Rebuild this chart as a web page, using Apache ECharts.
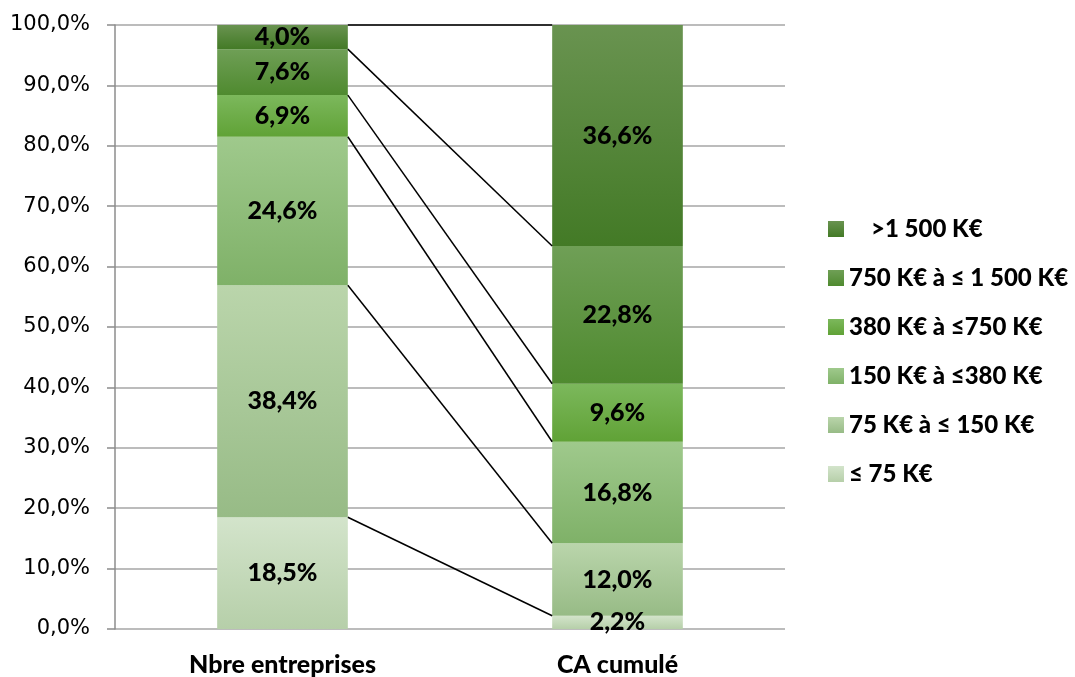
<!DOCTYPE html>
<html><head><meta charset="utf-8">
<script src="https://cdn.jsdelivr.net/npm/echarts@6/dist/echarts.min.js"></script>
<style>html,body{margin:0;padding:0;background:#fff}#c{width:1075px;height:677px}</style>
</head><body><div id="c"></div>
<script>
var categories = ['Nbre entreprises', 'CA cumulé'];
var seriesNames = ['≤ 75 K€', '75 K€ à ≤ 150 K€', '150 K€ à ≤380 K€', '380 K€ à ≤750 K€', '750 K€ à ≤ 1 500 K€', '>1 500 K€'];
var s_le75 = [18.5, 2.2];
var s_75_150 = [38.4, 12.0];
var s_150_380 = [24.6, 16.8];
var s_380_750 = [6.9, 9.6];
var s_750_1500 = [7.6, 22.8];
var s_gt1500 = [4.0, 36.6];
var yTicks = [0, 10, 20, 30, 40, 50, 60, 70, 80, 90, 100];

var allValues = [s_le75, s_75_150, s_150_380, s_380_750, s_750_1500, s_gt1500];
var gradients = [
  ['#d3e4cb', '#b6cfa9'],
  ['#bad5ab', '#97bb86'],
  ['#9fc98c', '#7fb168'],
  ['#7cb85c', '#60a236'],
  ['#6f9f56', '#4f8a2f'],
  ['#699350', '#437a26']
];
function fmt(v){ return v.toFixed(1).replace('.', ',') + '%'; }
var BAR_FRAC = 0.39;

var series = allValues.map(function(vals, i){
  return {
    name: seriesNames[i], type: 'bar', stack: 'total', barWidth: (BAR_FRAC*100)+'%',
    data: vals,
    itemStyle: { color: new echarts.graphic.LinearGradient(0,0,0,1,[{offset:0,color:gradients[i][0]},{offset:1,color:gradients[i][1]}]) },
    label: { show: true, position: 'inside', color: '#000', fontFamily: 'Lato', fontWeight: 900, fontSize: 25,
      formatter: function(p){ return fmt(p.value); } },
    z: 2
  };
});

var connData = [];
var c0 = 0, c1 = 0;
allValues.forEach(function(vals){ c0 += vals[0]; c1 += vals[1]; connData.push([0, c0, c1]); });

series.push({
  type: 'custom', name: 'conn', silent: true, z: 5,
  data: connData,
  encode: { x: 0, y: 1 },
  renderItem: function(params, api){
    var a = api.coord([0, api.value(1)]);
    var b = api.coord([1, api.value(2)]);
    var hw = api.size([1, 0])[0] * BAR_FRAC / 2;
    return { type: 'line', shape: { x1: a[0] + hw, y1: a[1], x2: b[0] - hw, y2: b[1] },
      style: { stroke: '#000', lineWidth: 1.5 } };
  }
});

var chart = echarts.init(document.getElementById('c'), null, {renderer: 'canvas'});
chart.setOption({
  animation: false,
  grid: { left: 115, right: 290, top: 25, bottom: 46 },
  xAxis: { type: 'category', data: categories,
    axisLine: { show: false }, axisTick: { show: false },
    axisLabel: { color: '#000', fontFamily: 'Lato', fontWeight: 900, fontSize: 25, margin: 23 } },
  yAxis: { type: 'value', min: yTicks[0], max: yTicks[yTicks.length-1], interval: 10,
    axisLine: { show: true, lineStyle: { color: '#8c8c8c', width: 1.5 } },
    axisTick: { show: true, length: 8, lineStyle: { color: '#8c8c8c', width: 1.5 } },
    splitLine: { lineStyle: { color: '#a6a6a6', width: 1.5 } },
    axisLabel: { color: '#000', fontFamily: 'DejaVu Sans', fontSize: 21, margin: 25, formatter: function(v){ return fmt(v); } } },
  legend: {
    orient: 'vertical', left: 823, top: 212, itemWidth: 16, itemHeight: 16, itemGap: 25,
    data: seriesNames.slice().reverse(),
    icon: 'rect',
    textStyle: { color: '#000', fontFamily: 'Lato', fontWeight: 900, fontSize: 24, lineHeight: 24, rich: { p: { width: 22 } } },
    formatter: function(n){ return n === '>1 500 K€' ? '{p|}' + n : n; }
  },
  series: series
});
</script></body></html>
